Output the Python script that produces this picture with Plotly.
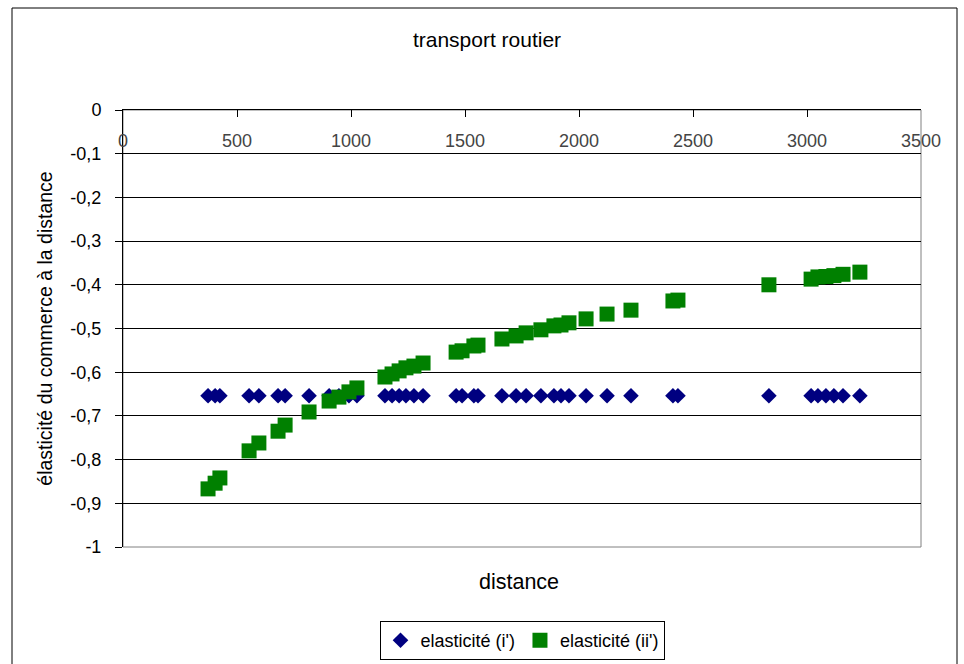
import plotly.graph_objects as go

# Distance (km) and trade elasticity estimates, road transport
distance = [373, 404, 425, 553, 596, 680, 711, 816, 904, 947, 991, 1026,
            1149, 1180, 1211, 1241, 1276, 1316, 1461, 1487, 1539, 1557,
            1662, 1724, 1768, 1833, 1890, 1921, 1956, 2031, 2123, 2228,
            2412, 2434, 2833, 3018, 3048, 3083, 3118, 3158, 3232]
elast_i = [-0.654] * len(distance)
elast_ii = [-0.867, -0.854, -0.842, -0.780, -0.762, -0.735, -0.721, -0.691,
            -0.666, -0.657, -0.645, -0.636, -0.611, -0.604, -0.597, -0.590,
            -0.586, -0.579, -0.554, -0.551, -0.540, -0.538, -0.524, -0.517,
            -0.510, -0.503, -0.494, -0.492, -0.487, -0.478, -0.467, -0.458,
            -0.437, -0.435, -0.400, -0.387, -0.382, -0.381, -0.379, -0.376,
            -0.371]

x_ticks = [0, 500, 1000, 1500, 2000, 2500, 3000, 3500]
x_labels = ["0", "500", "1000", "1500", "2000", "2500", "3000", "3500"]
y_ticks = [0, -0.1, -0.2, -0.3, -0.4, -0.5, -0.6, -0.7, -0.8, -0.9, -1]
y_labels = ["0", "-0,1", "-0,2", "-0,3", "-0,4", "-0,5", "-0,6", "-0,7",
            "-0,8", "-0,9", "-1"]

FONT = "Liberation Sans, Arial, sans-serif"

fig = go.Figure()
fig.add_trace(go.Scatter(
    x=distance, y=elast_i, mode="markers", name="elasticité (i')",
    marker=dict(symbol="diamond", size=12, color="#000080",
                line=dict(width=0)),
))
fig.add_trace(go.Scatter(
    x=distance, y=elast_ii, mode="markers", name="elasticité (ii')",
    marker=dict(symbol="square", size=15, color="#008000",
                line=dict(width=0)),
))

W, H = 964, 664
L, R, T, B = 123, 921, 110, 547
pw, ph = R - L, B - T

def px(x):
    return (x - L) / pw

def py(y):
    return (B - y) / ph

fig.update_layout(
    width=W, height=H,
    margin=dict(l=L, r=W - R, t=T, b=H - B, pad=0, autoexpand=False),
    paper_bgcolor="white", plot_bgcolor="white",
    font=dict(family=FONT, size=18, color="black"),
    title=dict(text="transport routier", x=487 / W, xref="container",
               xanchor="center", y=1 - 40 / H, yref="container",
               yanchor="middle", font=dict(size=21)),
    xaxis=dict(range=[0, 3500], side="top", tickvals=x_ticks,
               ticktext=x_labels, ticks="inside", ticklen=7,
               tickcolor="black", ticklabelposition="inside",
               ticklabeloverflow="allow", ticklabelstandoff=18,
               tickfont=dict(size=18),
               showline=True, linecolor="black", linewidth=1,
               showgrid=False, zeroline=False, anchor="y"),
    yaxis=dict(range=[-1, 0], tickvals=y_ticks, ticktext=y_labels,
               ticks="outside", ticklen=7, tickcolor="black",
               ticklabeloverflow="allow", ticklabelstandoff=10,
               tickfont=dict(size=18),
               showline=True, linecolor="black", linewidth=1,
               showgrid=True, gridcolor="black", gridwidth=1,
               zeroline=False,
               title=dict(text="élasticité du commerce à la distance",
                          standoff=12, font=dict(size=19.5))),
    legend=dict(orientation="h", x=px(522), xanchor="center",
                y=py(621), yanchor="top", bordercolor="black",
                borderwidth=1, bgcolor="white", font=dict(size=18),
                itemwidth=30),
    showlegend=True,
)

# grey frame of the plotting area
fig.add_shape(type="rect", xref="paper", yref="paper", x0=0, x1=1, y0=0,
              y1=1, line=dict(color="#808080", width=1), layer="below")
# outer chart border
fig.add_shape(type="rect", xref="paper", yref="paper",
              x0=px(12), x1=px(957), y0=py(700), y1=py(8),
              line=dict(color="black", width=1))

fig.add_annotation(text="distance", xref="paper", yref="paper",
                   x=px(519), y=py(582), showarrow=False,
                   xanchor="center", yanchor="middle",
                   font=dict(size=21.5))

fig.write_html("out.html")
